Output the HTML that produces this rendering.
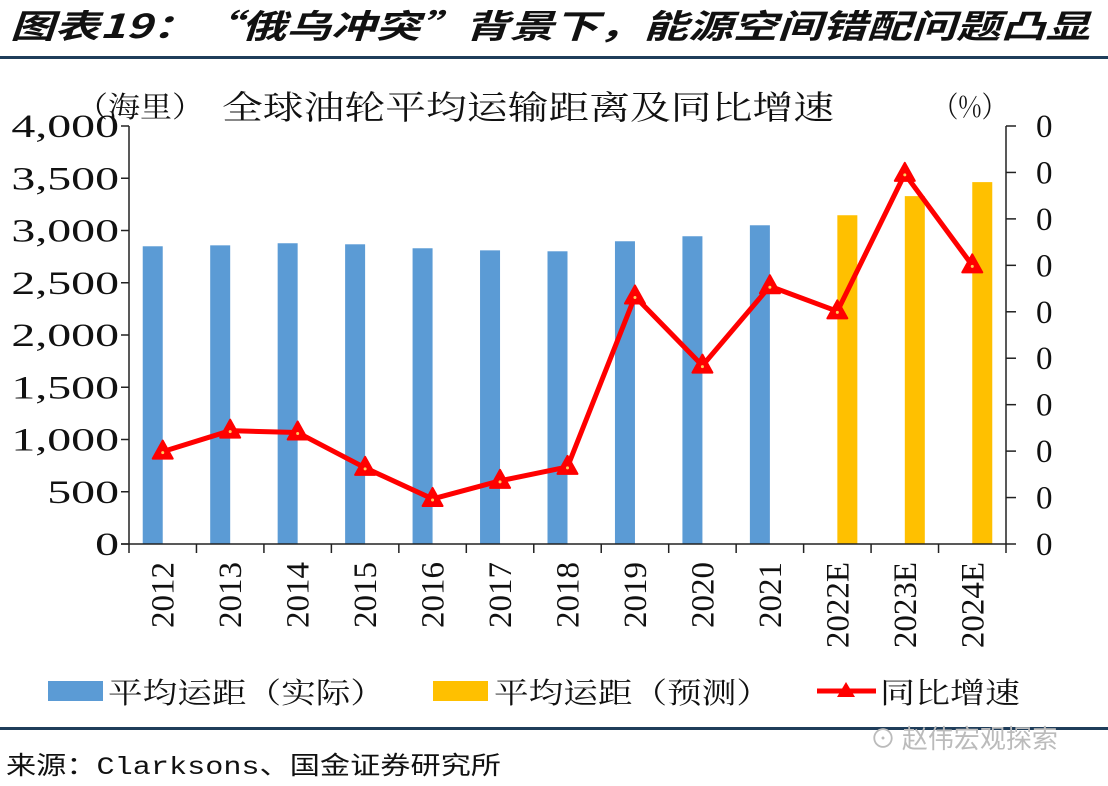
<!DOCTYPE html>
<html><head><meta charset="utf-8">
<style>
html,body{margin:0;padding:0;background:#fff;}
body{width:1108px;height:786px;overflow:hidden;position:relative;}
svg{position:absolute;left:0;top:0;}
</style></head>
<body>
<svg width="1108" height="786" viewBox="0 0 1108 786">
  <text x="10" y="38" font-family="'Noto Sans CJK SC',sans-serif" font-size="33" font-style="italic" font-weight="bold" fill="#111" textLength="1080" lengthAdjust="spacingAndGlyphs">图表19：“俄乌冲突”背景下，能源空间错配问题凸显</text>
  <rect x="0" y="56" width="1108" height="3" fill="#1f3d5a"/>
  <text x="76" y="117" font-family="'Noto Serif CJK SC',serif" font-size="29" fill="#111" textLength="128" lengthAdjust="spacingAndGlyphs">（海里）</text>
  <text x="222" y="119" font-family="'Noto Serif CJK SC',serif" font-size="33" fill="#111" textLength="612" lengthAdjust="spacingAndGlyphs">全球油轮平均运输距离及同比增速</text>
  <text x="933" y="117" font-family="'Noto Serif CJK SC',serif" font-size="29" fill="#111" textLength="74" lengthAdjust="spacingAndGlyphs">（%）</text>
  <g id="plot"></g>
  <g>
    <rect x="48" y="681" width="55" height="20" fill="#5b9bd5"/>
    <text x="108" y="703" font-family="'Noto Serif CJK SC',serif" font-size="29" fill="#111" textLength="277" lengthAdjust="spacingAndGlyphs">平均运距（实际）</text>
    <rect x="433" y="681" width="55" height="20" fill="#ffc000"/>
    <text x="494" y="703" font-family="'Noto Serif CJK SC',serif" font-size="29" fill="#111" textLength="277" lengthAdjust="spacingAndGlyphs">平均运距（预测）</text>
    <line x1="817" y1="691" x2="876" y2="691" stroke="#ff0000" stroke-width="5"/>
    <polygon points="846,682 855,697 837,697" fill="#ff0000"/>
    <text x="880" y="703" font-family="'Noto Serif CJK SC',serif" font-size="29" fill="#111" textLength="140" lengthAdjust="spacingAndGlyphs">同比增速</text>
  </g>
  <rect x="0" y="727" width="1108" height="3" fill="#1f3d5a"/>
  <text x="870" y="748" font-family="'Noto Sans CJK SC',sans-serif" font-size="26" fill="#bbb">⊙ 赵伟宏观探索</text>
  <text x="6" y="774" font-family="'Liberation Mono','Noto Sans CJK SC',monospace" font-size="25" fill="#111" textLength="495" lengthAdjust="spacingAndGlyphs">来源：Clarksons、国金证券研究所</text>
</svg>
<script>
const categories=["2012","2013","2014","2015","2016","2017","2018","2019","2020","2021","2022E","2023E","2024E"];
const actualDistance=[2849,2858,2878,2868,2830,2810,2801,2897,2945,3050,null,null,null];
const forecastDistance=[null,null,null,null,null,null,null,null,null,null,3146,3329,3463];
const growthIndex=[1.99,2.44,2.40,1.64,0.97,1.36,1.66,5.33,3.84,5.55,5.01,7.97,6.0];
const leftTicks=[0,500,1000,1500,2000,2500,3000,3500,4000];
const leftTickLabels=["0","500","1,000","1,500","2,000","2,500","3,000","3,500","4,000"];
const rightTicks=[0,1,2,3,4,5,6,7,8,9];
const rightTickLabels=["0","0","0","0","0","0","0","0","0","0"];

const NS="http://www.w3.org/2000/svg";
const g=document.getElementById('plot');
const X0=129,X1=1006,Y0=544,Y1=126;
const band=(X1-X0)/categories.length;
const yL=v=>Y0-(v/4000)*(Y0-Y1);
const yR=v=>Y0-(v/9)*(Y0-Y1);
const xc=i=>X0+band*(i+0.5);
function mk(t,a){const e=document.createElementNS(NS,t);for(const k in a)e.setAttribute(k,a[k]);g.appendChild(e);return e;}

actualDistance.forEach((v,i)=>{if(v==null)return;
  const e=mk('rect',{x:xc(i)-20,y:yL(v),width:20,height:Y0-yL(v),fill:'#5b9bd5'});
  
  
});
forecastDistance.forEach((v,i)=>{if(v==null)return;
  const e=mk('rect',{x:xc(i),y:yL(v),width:20,height:Y0-yL(v),fill:'#ffc000'});
  
  
});

let e=mk('line',{x1:X0,y1:Y1,x2:X0,y2:Y0,stroke:'#222','stroke-width':1.5});


e=mk('line',{x1:X1,y1:Y1,x2:X1,y2:Y0,stroke:'#222','stroke-width':1.5});


e=mk('line',{x1:X0-8,y1:Y0,x2:X1,y2:Y0,stroke:'#222','stroke-width':1.5});



leftTicks.forEach((v,i)=>{
  const y=yL(v);
  const t=mk('line',{x1:X0-8,y1:y,x2:X0,y2:y,stroke:'#222','stroke-width':1.5});
  
  
  const l=mk('text',{x:0,y:0,'text-anchor':'end','font-family':"'Liberation Serif',serif",'font-size':33,fill:'#111',transform:`translate(${X0-10},${y+11}) scale(1.45,1)`});
  l.textContent=leftTickLabels[i];
  
  
});
rightTicks.forEach((v,i)=>{
  const y=yR(v);
  const t=mk('line',{x1:X1,y1:y,x2:X1+10,y2:y,stroke:'#222','stroke-width':1.5});
  
  
  const l=mk('text',{x:X1+30,y:y+11,'text-anchor':'start','font-family':"'Liberation Serif',serif",'font-size':33,fill:'#111'});
  l.textContent=rightTickLabels[i];
  
  
});
categories.forEach((c,i)=>{
  const x=X0+band*i;
  const t=mk('line',{x1:x,y1:Y0,x2:x,y2:Y0+9,stroke:'#222','stroke-width':1.5});
  
  
  const l=mk('text',{x:0,y:0,'text-anchor':'end','font-family':"'Liberation Serif',serif",'font-size':33,fill:'#111',transform:`translate(${xc(i)+11},${Y0+18}) rotate(-90)`});
  l.textContent=c;
  
  
});
const last=X0+band*categories.length;
e=mk('line',{x1:last,y1:Y0,x2:last,y2:Y0+9,stroke:'#222','stroke-width':1.5});



const pts=growthIndex.map((v,i)=>xc(i)+','+yR(v)).join(' ');
e=mk('polyline',{points:pts,fill:'none',stroke:'#ff0000','stroke-width':5,'stroke-linejoin':'round'});


growthIndex.forEach((v,i)=>{
  const x=xc(i),y=yR(v);
  const m=mk('polygon',{points:`${x},${y-11} ${x+10},${y+7} ${x-10},${y+7}`,fill:'#ff0000',stroke:'#ff0000','stroke-width':2,'stroke-linejoin':'round'});
  
  
  const d=mk('circle',{cx:x,cy:y+1,r:1.5,fill:'#ffd060'});
  
  
});
</script>
</body></html>
